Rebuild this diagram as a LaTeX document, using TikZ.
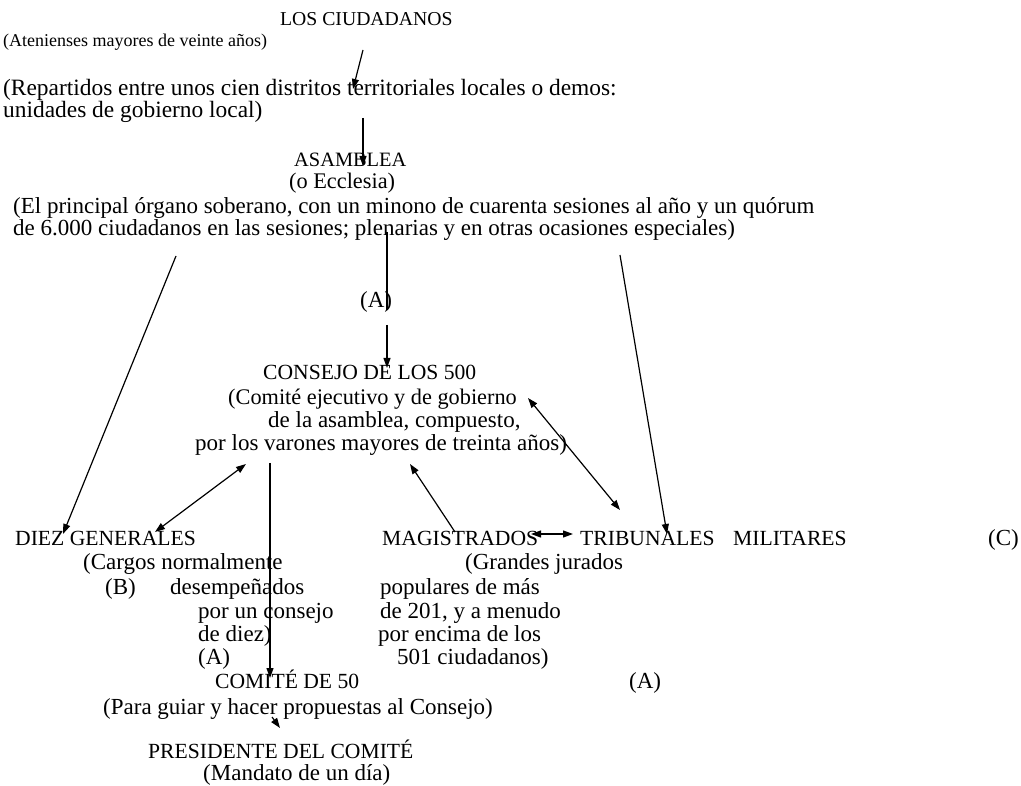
\documentclass[tikz,border=0pt]{standalone}
\usepackage{fontspec}
\setmainfont{Liberation Serif}
\usetikzlibrary{arrows.meta}

\tikzset{
  txt/.style={anchor=base west,inner sep=0pt,font=\fontsize{23}{27}\selectfont},
  capstxt/.style={txt,font=\fontsize{21.6}{26}\selectfont},
  conn/.style={line width=1.2pt},
}

\begin{document}
\begin{tikzpicture}[x=1pt,y=-1pt,>={Triangle[length=10pt,width=7pt]}]
  \useasboundingbox (0,0) rectangle (1021,786);
  % ciudadanos y asamblea
  \node[capstxt,font=\fontsize{19.7}{23}\selectfont] (ciud) at (280,26) {LOS CIUDADANOS};
  \node[txt,font=\fontsize{18}{22}\selectfont] (aten) at (3,47) {(Atenienses mayores de veinte años)};
  \node[txt,font=\fontsize{23.4}{27}\selectfont] (repart) at (3,96) {(Repartidos entre unos cien distritos territoriales locales o demos:};
  \node[txt,font=\fontsize{23.4}{27}\selectfont] (unid) at (3,118) {unidades de gobierno local)};
  \node[capstxt,font=\fontsize{20.4}{24}\selectfont] (asam) at (294,167) {ASAMBLEA};
  \node[txt,font=\fontsize{22.3}{26}\selectfont] (eccl) at (289,189) {(o Ecclesia)};
  \node[txt] (princ) at (13,214) {(El principal órgano soberano, con un minono de cuarenta sesiones al año y un quórum};
  \node[txt] (seis) at (13,236) {de 6.000 ciudadanos en las sesiones; plenarias y en otras ocasiones especiales)};
  \node[txt] (aA) at (360,308) {(A)};
  % consejo
  \node[capstxt] (cons) at (263,380) {CONSEJO DE LOS 500};
  \node[txt,font=\fontsize{22.3}{26}\selectfont] (comi) at (228,405) {(Comité ejecutivo y de gobierno};
  \node[txt] (asamb) at (268,428) {de la asamblea, compuesto,};
  \node[txt] (varon) at (195,450) {por los varones mayores de treinta años)};
  % fila de cargos
  \node[capstxt] (diez) at (15,545) {DIEZ GENERALES};
  \node[capstxt] (magis) at (382,545) {MAGISTRADOS};
  \node[capstxt] (trib) at (580,545) {TRIBUNALES};
  \node[capstxt] (milit) at (733,545) {MILITARES};
  \node[txt] (cC) at (988,545) {(C)};
  \node[txt] (cargos) at (83,569) {(Cargos normalmente};
  \node[txt] (B) at (105,594) {(B)};
  \node[txt] (desemp) at (170,594) {desempeñados};
  \node[txt] (porun) at (198,618) {por un consejo};
  \node[txt] (dediez) at (198,641) {de diez)};
  \node[txt] (aA2) at (198,664) {(A)};
  \node[txt] (grandes) at (465,569) {(Grandes jurados};
  \node[txt] (popul) at (380,594) {populares de más};
  \node[txt] (de201) at (380,618) {de 201, y a menudo};
  \node[txt] (encima) at (378,641) {por encima de los};
  \node[txt] (c501) at (397,664) {501 ciudadanos)};
  \node[txt] (aA3) at (629,688) {(A)};
  % comite y presidente
  \node[capstxt] (comite) at (215,688) {COMITÉ DE 50};
  \node[txt] (guiar) at (103,714) {(Para guiar y hacer propuestas al Consejo)};
  \node[capstxt] (pres) at (148,758) {PRESIDENTE DEL COMITÉ};
  \node[txt] (mandato) at (203,780) {(Mandato de un día)};
  % extremos de flechas
  \coordinate (ciudT) at (363,50);   \coordinate (ciudH) at (353,89);
  \coordinate (asamT) at (363,118);  \coordinate (asamH) at (363,166);
  \coordinate (diezT) at (176,256);  \coordinate (diezH) at (63,534);
  \coordinate (midT) at (387,232);   \coordinate (midB) at (387,310);
  \coordinate (consT) at (387,325);  \coordinate (consH) at (387,368);
  \coordinate (tribT) at (620,255);  \coordinate (tribH) at (667,534);
  \coordinate (ctA) at (528,398);    \coordinate (ctB) at (620,510);
  \coordinate (dcA) at (155,532);    \coordinate (dcB) at (246,464);
  \coordinate (comT) at (270,463);   \coordinate (comH) at (270,678);
  \coordinate (magT) at (455,532);   \coordinate (magH) at (410,464);
  \coordinate (mtA) at (531,534);    \coordinate (mtB) at (573,534);
  \coordinate (presT) at (272,717);  \coordinate (presH) at (280,728);
  % conectores
  \draw[conn,->] (ciudT) -- (ciudH);
  \draw[conn,->] (asamT) -- (asamH);
  \draw[conn,->] (diezT) -- (diezH);
  \draw[conn] (midT) -- (midB);
  \draw[conn,->] (consT) -- (consH);
  \draw[conn,->] (tribT) -- (tribH);
  \draw[conn,<->] (ctA) -- (ctB);
  \draw[conn,<->] (dcA) -- (dcB);
  \draw[conn,->] (comT) -- (comH);
  \draw[conn,->] (magT) -- (magH);
  \draw[conn,<->] (mtA) -- (mtB);
  \draw[conn,->] (presT) -- (presH);
\end{tikzpicture}
\end{document}
